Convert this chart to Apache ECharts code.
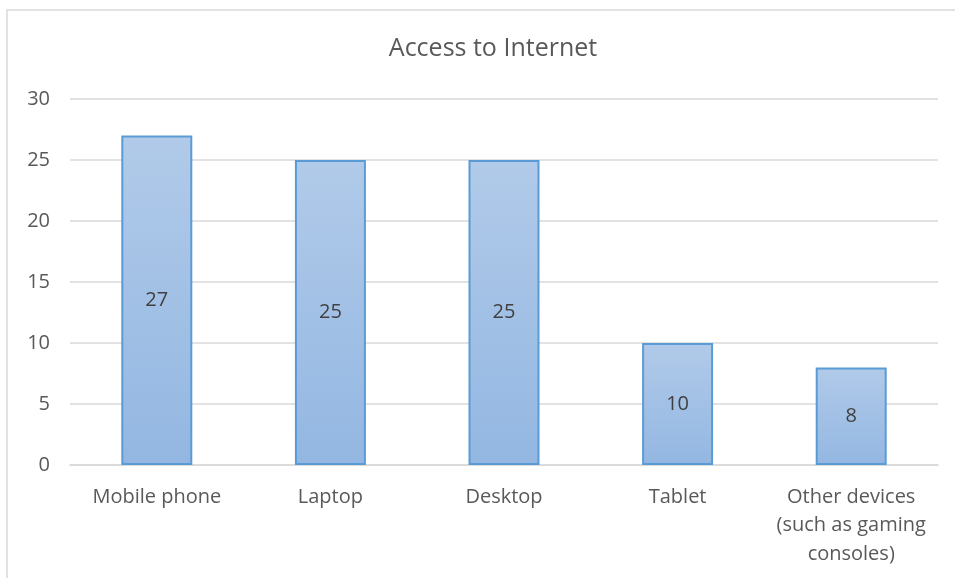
<!DOCTYPE html>
<html>
<head>
<meta charset="utf-8">
<script src="https://cdn.jsdelivr.net/npm/echarts@6/dist/echarts.min.js"></script>
<style>
  html, body { margin: 0; padding: 0; background: #fff; }
  #chart { width: 955px; height: 578px; }
</style>
</head>
<body>
<div id="chart"></div>
<script>
// Devices used to access the internet
const categories = ['Mobile phone', 'Laptop', 'Desktop', 'Tablet', 'Other devices\n(such as gaming\nconsoles)'];
const values = [27, 25, 25, 10, 8];
const yTicks = [0, 5, 10, 15, 20, 25, 30];

const font = "'Open Sans', 'Noto Sans', sans-serif";
const chart = echarts.init(document.getElementById('chart'), null, { renderer: 'canvas' });

chart.setOption({
  backgroundColor: '#ffffff',
  animation: false,
  graphic: [{
    type: 'rect',
    shape: { x: 7, y: 10, width: 1000, height: 700 },
    style: { fill: 'none', stroke: '#d9d9d9', lineWidth: 1.5 },
    silent: true,
    z: -1
  }],
  title: {
    text: 'Access to Internet',
    left: 488,
    top: 31,
    textAlign: 'center',
    textStyle: { fontFamily: font, fontSize: 25, fontWeight: 'normal', color: '#595959' }
  },
  grid: { left: 70, right: 17, top: 99, bottom: 113, containLabel: false },
  xAxis: {
    type: 'category',
    data: categories,
    axisLine: { show: true, lineStyle: { color: '#d9d9d9', width: 1.5 } },
    axisTick: { show: false },
    axisLabel: {
      fontFamily: font, fontSize: 20, color: '#595959', margin: 18,
      lineHeight: 28.5, interval: 0
    }
  },
  yAxis: {
    type: 'value',
    min: yTicks[0],
    max: yTicks[yTicks.length - 1],
    interval: 5,
    axisLine: { show: false },
    axisTick: { show: false },
    splitLine: { lineStyle: { color: '#d9d9d9', width: 1.5 } },
    axisLabel: { fontFamily: font, fontSize: 20, color: '#595959', margin: 20 }
  },
  series: [{
    type: 'bar',
    data: values,
    barWidth: 71,
    itemStyle: {
      color: new echarts.graphic.LinearGradient(0, 0, 0, 1, [
        { offset: 0, color: '#b1cae9' },
        { offset: 1, color: '#93b7e2' }
      ]),
      borderColor: '#5b9bd5',
      borderWidth: 2
    },
    label: {
      show: true,
      position: 'inside',
      fontFamily: font,
      fontSize: 20,
      color: '#404040'
    }
  }]
});
</script>
</body>
</html>
